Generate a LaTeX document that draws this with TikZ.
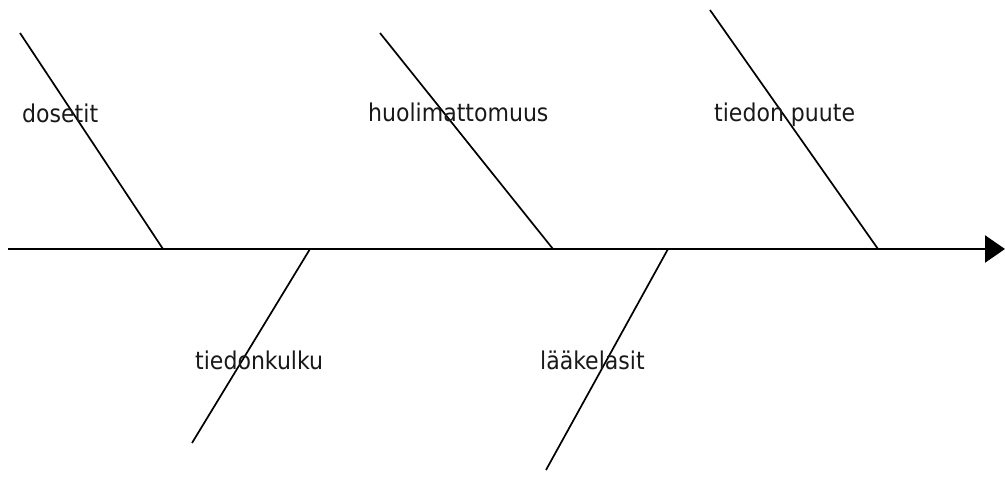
\documentclass[tikz,border=0pt]{standalone}
\usepackage{fontspec}
\setmainfont{DejaVu Sans Condensed}
\usetikzlibrary{arrows.meta}
\begin{document}
\begin{tikzpicture}[x=1pt,y=-1pt,
  bone/.style={line width=1.7pt,black},
  spine/.style={line width=2.4pt,black,-{Triangle[length=20pt,width=27pt]}},
  lbl/.style={anchor=base west,inner sep=0pt,font=\fontsize{24.5}{28}\selectfont,text=black!90}]
\useasboundingbox (0,0) rectangle (1005,481);
% spine
\coordinate (s0) at (8,249);
\coordinate (s1) at (1005,249);
\draw[spine] (s0) -- (s1);
% bone joints on spine
\coordinate (j1) at (163,249);
\coordinate (j2) at (553,249);
\coordinate (j3) at (878,249);
\coordinate (j4) at (310,249);
\coordinate (j5) at (668,249);
% free ends
\coordinate (t1) at (20,33);
\coordinate (t2) at (380,33);
\coordinate (t3) at (710,10);
\coordinate (b4) at (192,443);
\coordinate (b5) at (546,470);
\draw[bone] (t1) -- (j1);
\draw[bone] (t2) -- (j2);
\draw[bone] (t3) -- (j3);
\draw[bone] (j4) -- (b4);
\draw[bone] (j5) -- (b5);
% labels
\node[lbl] (l1) at (22,123) {dosetit};
\node[lbl] (l2) at (368,122) {huolimattomuus};
\node[lbl] (l3) at (714,122) {tiedon puute};
\node[lbl] (l4) at (195,370) {tiedonkulku};
\node[lbl] (l5) at (540,370) {lääkelasit};
\end{tikzpicture}
\end{document}
